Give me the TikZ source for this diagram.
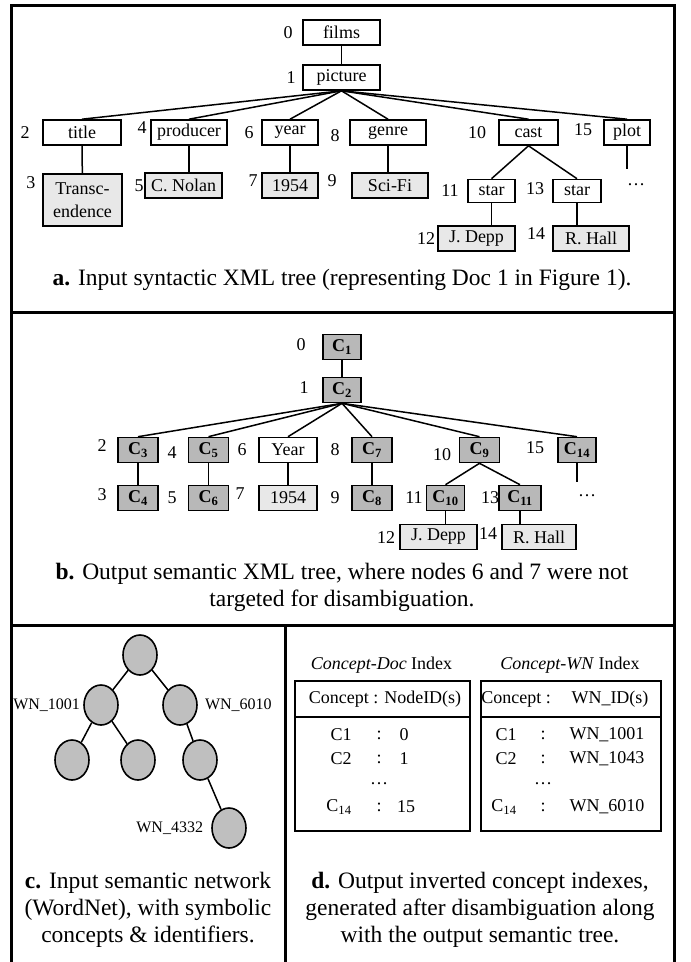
\documentclass[tikz,border=0pt]{standalone}
\usepackage{fontspec}
\setmainfont{Liberation Serif}
\usetikzlibrary{positioning,shapes.geometric,backgrounds}

\begin{document}
\begin{tikzpicture}[x=1pt,y=-1pt,
tag/.style={inner sep=0pt,font=\fontsize{18}{20}\selectfont},
wntag/.style={inner sep=0pt,font=\fontsize{16}{18}\selectfont},
xmlnode/.style={draw,line width=1.6pt,minimum height=25pt,inner sep=0pt,font=\fontsize{18}{23}\selectfont},
valnode/.style={xmlnode,fill=black!9},
semnode/.style={xmlnode,fill=black!28,font=\fontsize{18}{20}\selectfont\bfseries},
wnnode/.style={draw,ellipse,line width=1.6pt,fill=black!25,minimum width=34pt,minimum height=40pt,inner sep=0pt},
edge/.style={line width=1.5pt},
panelcap/.style={inner sep=0pt,align=center,font=\fontsize{23.5}{27}\selectfont}]
\useasboundingbox (0,0) rectangle (691,962);
\draw[line width=3pt] (11,980) |- (674,5) -- (674,980);
\draw[line width=3pt] (11,312) -- (674,312);
\draw[line width=3pt] (11,625) -- (674,625);
\draw[line width=3pt] (285,625) -- (285,980);
% a. syntactic tree
\node[xmlnode,minimum width=77pt] (films) at (341.5,32.5) {films};
\node[xmlnode,minimum width=77pt] (pic) at (341.5,77.5) {picture};
\node[xmlnode,minimum width=78pt] (title) at (82,132.5) {title};
\node[xmlnode,minimum width=76pt] (prod) at (189,132.5) {producer};
\node[xmlnode,minimum width=56pt] (year) at (290,132.5) {year};
\node[xmlnode,minimum width=76pt] (genre) at (388,132.5) {genre};
\node[xmlnode,minimum width=59pt] (cast) at (528.5,132.5) {cast};
\node[xmlnode,minimum width=46pt] (plot) at (627,132.5) {plot};
\node[valnode,minimum width=79pt,minimum height=52pt,align=center,anchor=north] (transc) at (82.5,173) {Transc-\\endence};
\node[valnode,minimum width=77pt] (nolan) at (183.5,185.5) {C. Nolan};
\node[valnode,minimum width=56pt] (y1954) at (290,185.5) {1954};
\node[valnode,minimum width=76pt] (scifi) at (390,185.5) {Sci-Fi};
\node[xmlnode,minimum width=47pt,minimum height=23pt] (star1) at (491.5,191) {star};
\node[xmlnode,minimum width=48pt,minimum height=23pt] (star2) at (577,191) {star};
\node[valnode,minimum width=77pt] (depp) at (476.5,238.5) {J. Depp};
\node[valnode,minimum width=76pt] (hall) at (591,238.5) {R. Hall};
\node[tag] (dotsa) at (636,185) {\dots};
\coordinate (plotend) at (627,169);
\node[tag] (l0) at (288,32.5) {0};
\node[tag] (l1) at (291,77.5) {1};
\node[tag] (l2) at (25,132.5) {2};
\node[tag] (l4) at (142,128) {4};
\node[tag] (l6) at (249,132.5) {6};
\node[tag] (l8) at (335,136) {8};
\node[tag] (l10) at (477,132.5) {10};
\node[tag] (l15) at (583,130) {15};
\node[tag] (l3) at (31,183) {3};
\node[tag] (l5) at (139,185.5) {5};
\node[tag] (l7) at (253,181) {7};
\node[tag] (l9) at (332,181) {9};
\node[tag] (l11) at (450,191) {11};
\node[tag] (l13) at (535,189) {13};
\node[tag] (l12) at (426,238.5) {12};
\node[tag] (l14) at (536,234) {14};
\begin{scope}[on background layer]
\draw[edge] (films) -- (pic);
\draw[edge] (pic.south) -- (title.north);
\draw[edge] (pic.south) -- (prod.north);
\draw[edge] (pic.south) -- (year.north);
\draw[edge] (pic.south) -- (genre.north);
\draw[edge] (pic.south) -- (cast.north);
\draw[edge] (pic.south) -- (plot.north);
\draw[edge] (title) -- (transc);
\draw[edge] (prod.south) -- (prod.south |- nolan.north);
\draw[edge] (year) -- (y1954);
\draw[edge] (genre.south) -- (genre.south |- scifi.north);
\draw[edge] (cast.south) -- (star1.north);
\draw[edge] (cast.south) -- (star2.north);
\draw[edge] (star1.south) -- (star1.south |- depp.north);
\draw[edge] (star2.south) -- (star2.south |- hall.north);
\draw[edge] (plot.south) -- (plotend);
\end{scope}
\node[panelcap] (capa) at (342,280) {\textbf{a.} Input syntactic XML tree (representing Doc 1 in Figure 1).};
% b. semantic tree
\node[semnode,minimum width=38pt] (c1) at (342,347) {C\textsubscript{1}};
\node[semnode,minimum width=38pt] (c2) at (342,390) {C\textsubscript{2}};
\node[semnode,minimum width=40pt] (c3) at (138,450) {C\textsubscript{3}};
\node[semnode,minimum width=40pt] (c5) at (208.5,450) {C\textsubscript{5}};
\node[xmlnode,minimum width=58pt] (yr) at (288,450) {Year};
\node[semnode,minimum width=40pt] (c7) at (372,450) {C\textsubscript{7}};
\node[semnode,minimum width=40pt] (c9) at (479.5,450) {C\textsubscript{9}};
\node[semnode,minimum width=38pt] (c14) at (577,450) {C\textsubscript{14}};
\node[semnode,minimum width=40pt] (c4) at (138,498) {C\textsubscript{4}};
\node[semnode,minimum width=40pt] (c6) at (208.5,498) {C\textsubscript{6}};
\node[valnode,minimum width=58pt] (yv) at (288,498) {1954};
\node[semnode,minimum width=40pt] (c8) at (372,498) {C\textsubscript{8}};
\node[semnode,minimum width=38pt] (c10) at (445.5,498) {C\textsubscript{10}};
\node[semnode,minimum width=42pt] (c11) at (520,498) {C\textsubscript{11}};
\node[valnode,minimum width=77pt] (deppb) at (438.5,537) {J. Depp};
\node[valnode,minimum width=74pt] (hallb) at (539,537) {R. Hall};
\node[tag] (dotsb) at (587,496) {\dots};
\coordinate (c14end) at (577,482);
\node[tag] (m0) at (301,345) {0};
\node[tag] (m1) at (304,388) {1};
\node[tag] (m2) at (102,446) {2};
\node[tag] (m4) at (172,453) {4};
\node[tag] (m6) at (242,450) {6};
\node[tag] (m8) at (335,450) {8};
\node[tag] (m10) at (442,455) {10};
\node[tag] (m15) at (535,448) {15};
\node[tag] (m3) at (102,495) {3};
\node[tag] (m5) at (172,498) {5};
\node[tag] (m7) at (240,494) {7};
\node[tag] (m9) at (335,498) {9};
\node[tag] (m11) at (414,498) {11};
\node[tag] (m13) at (490,498) {13};
\node[tag] (m12) at (386,538) {12};
\node[tag] (m14) at (488,534) {14};
\begin{scope}[on background layer]
\draw[edge] (c1) -- (c2);
\draw[edge] (c2.south) -- (c3.north);
\draw[edge] (c2.south) -- (c5.north);
\draw[edge] (c2.south) -- (yr.north);
\draw[edge] (c2.south) -- (c7.north);
\draw[edge] (c2.south) -- (c9.north);
\draw[edge] (c2.south) -- (c14.north);
\draw[edge] (c3) -- (c4);
\draw[edge] (c5) -- (c6);
\draw[edge] (yr) -- (yv);
\draw[edge] (c7) -- (c8);
\draw[edge] (c9.south) -- (c10.north);
\draw[edge] (c9.south) -- (c11.north);
\draw[edge] (c10.south) -- (c10.south |- deppb.north);
\draw[edge] (c11.south) -- (c11.south |- hallb.north);
\draw[edge] (c14.south) -- (c14end);
\end{scope}
\node[panelcap] (capb) at (342,587) {\textbf{b.} Output semantic XML tree, where nodes 6 and 7 were not\\targeted for disambiguation.};
% c. WordNet
\node[wnnode] (wroot) at (140,655) {};
\node[wnnode] (w1001) at (101,705) {};
\node[wnnode] (w6010) at (180,705) {};
\node[wnnode] (wl1) at (72,760) {};
\node[wnnode] (wl2) at (138,760) {};
\node[wnnode] (wl3) at (200,760) {};
\node[wnnode] (w4332) at (229,828) {};
\node[wntag,left=3pt of w1001] (t1001) {WN\_1001};
\node[wntag,right=7pt of w6010] (t6010) {WN\_6010};
\node[wntag,left=8pt of w4332] (t4332) {WN\_4332};
\begin{scope}[on background layer]
\draw[edge] (wroot) -- (w1001);
\draw[edge] (wroot) -- (w6010);
\draw[edge] (w1001) -- (wl1);
\draw[edge] (w1001) -- (wl2);
\draw[edge] (w6010) -- (wl3);
\draw[edge] (wl3) -- (w4332);
\end{scope}
\node[panelcap] (capc) at (148,910) {\textbf{c.} Input semantic network\\(WordNet), with symbolic\\concepts \& identifiers.};
% d. concept indexes
\node[tag] (cdtitle) at (381.5,665) {\textit{Concept-Doc} Index};
\node[tag] (cwtitle) at (570,665) {\textit{Concept-WN} Index};
\node[draw,line width=1.6pt,minimum width=175pt,minimum height=150pt,anchor=north west] (cdtab) at (294,680) {};
\node[draw,line width=1.6pt,minimum width=180pt,minimum height=150pt,anchor=north west] (cwtab) at (480,680) {};
\draw[line width=1.6pt] (294,717) -- (469,717);
\draw[line width=1.6pt] (480,717) -- (660,717);
\node[tag] (cdhead) at (385,699) {Concept : NodeID(s)};
\node[tag] (cwhead1) at (516,699) {Concept :};
\node[tag] (cwhead2) at (610,699) {WN\_ID(s)};
\node[tag] (cdr1a) at (341,735) {C1};
\node[tag] (cdr1b) at (379,735) {:};
\node[tag] (cdr1c) at (404,735) {0};
\node[tag] (cdr2a) at (341,759) {C2};
\node[tag] (cdr2b) at (379,759) {:};
\node[tag] (cdr2c) at (404,759) {1};
\node[tag] (cddots) at (379,784) {\dots};
\node[tag] (cdr3a) at (339,807) {C\textsubscript{14}};
\node[tag] (cdr3b) at (379,807) {:};
\node[tag] (cdr3c) at (406,807) {15};
\node[tag] (cwr1a) at (506,735) {C1};
\node[tag] (cwr1b) at (543,735) {:};
\node[tag] (cwr1c) at (607,735) {WN\_1001};
\node[tag] (cwr2a) at (506,759) {C2};
\node[tag] (cwr2b) at (543,759) {:};
\node[tag] (cwr2c) at (607,759) {WN\_1043};
\node[tag] (cwdots) at (543,784) {\dots};
\node[tag] (cwr3a) at (504,807) {C\textsubscript{14}};
\node[tag] (cwr3b) at (543,807) {:};
\node[tag] (cwr3c) at (607,807) {WN\_6010};
\node[panelcap] (capd) at (480,910) {\textbf{d.} Output inverted concept indexes,\\generated after disambiguation along\\with the output semantic tree.};
\end{tikzpicture}
\end{document}
